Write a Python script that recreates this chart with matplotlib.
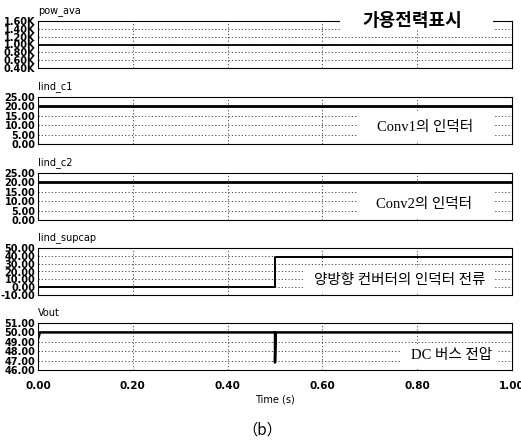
import matplotlib
matplotlib.use("Agg")
import matplotlib.pyplot as plt
from matplotlib import font_manager
from matplotlib.patches import Rectangle
from matplotlib.ticker import FixedLocator, FuncFormatter

# signal data
t_flat = [0.0, 1.0]
pow_ava = [1000, 1000]
ind_c1 = [20, 20]
ind_c2 = [20, 20]
t_supcap = [0.0, 0.5, 0.5, 1.0]
ind_supcap = [0, 0, 38, 38]
t_vout = [0.0, 0.004, 0.5, 0.5, 0.5015, 1.0]
vout = [49.3, 50, 50, 46.8, 50, 50]

names = ["pow_ava", "Iind_c1", "Iind_c2", "Iind_supcap", "Vout"]
yticks = [
    [400, 600, 800, 1000, 1200, 1400, 1600],
    [0, 5, 10, 15, 20, 25],
    [0, 5, 10, 15, 20, 25],
    [-10, 0, 10, 20, 30, 40, 50],
    [46, 47, 48, 49, 50, 51],
]
xticks = [0.0, 0.2, 0.4, 0.6, 0.8, 1.0]
notes = ["가용전력표시", "Conv1의 인덕터", "Conv2의 인덕터",
         "양방향 컨버터의 인덕터 전류", "DC 버스 전압"]

installed = {f.name for f in font_manager.fontManager.ttflist}
narrow = "Liberation Sans Narrow" if "Liberation Sans Narrow" in installed else "DejaVu Sans"
kr = "Noto Sans CJK KR"

fig = plt.figure(figsize=(5.21, 4.45), dpi=100)
W, H = 521.0, 445.0
left, right = 38, 512
tops = [21, 97, 173, 248, 323]
ph = 47

series = [(t_flat, pow_ava), (t_flat, ind_c1), (t_flat, ind_c2),
          (t_supcap, ind_supcap), (t_vout, vout)]
lws = [1.3, 2.0, 2.0, 1.4, 1.8]

# (x0, y0, x1, y1) of the white label boxes and text centre, axes fraction
boxes = [(0.637, 0.80, 0.960, 1.28), (0.673, 0.06, 0.960, 0.70),
         (0.673, 0.06, 0.960, 0.72), (0.559, 0.06, 0.964, 0.58),
         (0.764, 0.06, 0.970, 0.53)]
centres = [(0.789, 1.02), (0.816, 0.35), (0.814, 0.32), (0.762, 0.31), (0.873, 0.30)]

axes = []
for i in range(5):
    ax = fig.add_axes([left / W, 1 - (tops[i] + ph) / H, (right - left) / W, ph / H])
    axes.append(ax)
    x, y = series[i]
    ax.plot(x, y, color="black", lw=lws[i], zorder=3)
    yt = yticks[i]
    ax.set_ylim(yt[0], yt[-1])
    ax.set_xlim(0, 1)
    ax.yaxis.set_major_locator(FixedLocator(yt))
    if i == 0:
        ax.yaxis.set_major_formatter(FuncFormatter(lambda v, p: f"{v / 1000:.2f}K"))
    else:
        ax.yaxis.set_major_formatter(FuncFormatter(lambda v, p: f"{v:.2f}"))
    ax.set_xticks(xticks)
    ax.tick_params(length=0, pad=2, labelsize=7)
    for lab in ax.get_yticklabels():
        lab.set_family(narrow)
        lab.set_fontweight("bold")
    # dotted grid, inner lines only
    for v in yt[1:-1]:
        ax.axhline(v, color="#333333", lw=0.6, ls=(0, (1.5, 2.5)), zorder=1)
    for v in xticks[1:-1]:
        ax.axvline(v, color="#333333", lw=0.6, ls=(0, (1.5, 2.5)), zorder=1)
    for s in ax.spines.values():
        s.set_linewidth(0.8)
    if i < 4:
        ax.set_xticklabels([])
    else:
        ax.set_xticklabels([f"{v:.2f}" for v in xticks], family=narrow,
                           fontweight="bold", fontsize=7.5)
        ax.tick_params(axis="x", pad=8)
    ax.text(0.0, 1 + 10 / ph, names[i], transform=ax.transAxes, ha="left",
            va="center", fontsize=7, family=narrow)

    x0, y0, x1, y1 = boxes[i]
    ax.add_patch(Rectangle((x0, y0), x1 - x0, y1 - y0, transform=ax.transAxes,
                           facecolor="white", edgecolor="none", zorder=5,
                           clip_on=False))
    cx, cy = centres[i]
    if i == 0:
        ax.text(cx, cy, notes[i], transform=ax.transAxes, ha="center", va="center",
                fontsize=13, fontweight="bold", family=[kr], zorder=6)
    else:
        ax.text(cx, cy, notes[i], transform=ax.transAxes, ha="center", va="center",
                fontsize=10.5, family=["Liberation Serif", kr], zorder=6)

fig.text((left + right) / 2 / W, 1 - 400 / H, "Time (s)", ha="center", va="center",
         fontsize=7, family=narrow)
fig.text(262 / W, 1 - 430 / H, "（b）", ha="center", va="center",
         fontsize=11, family=[kr])

fig.savefig("out.png", dpi=100)
